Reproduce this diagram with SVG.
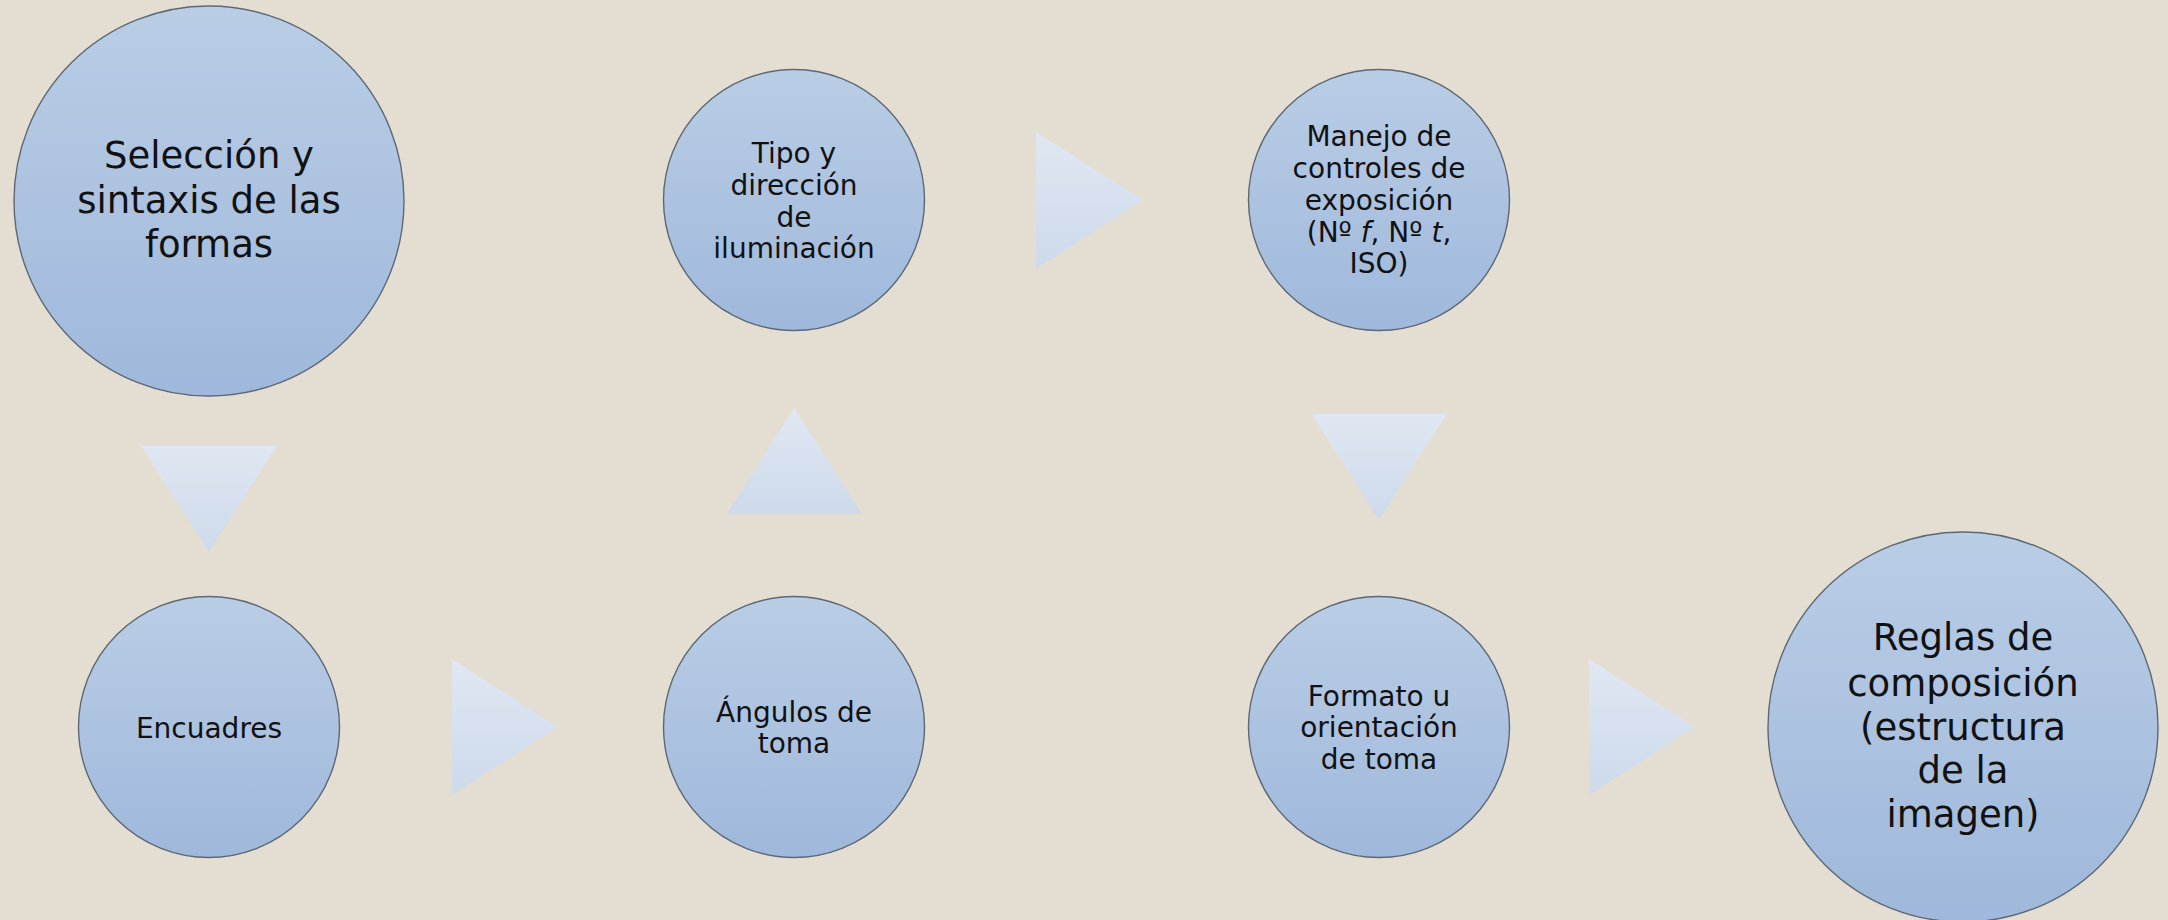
<svg xmlns="http://www.w3.org/2000/svg" width="2168" height="920" viewBox="0 0 2168 920">
<defs>
<linearGradient id="gc" x1="0" y1="0" x2="0" y2="1">
<stop offset="0" stop-color="#b9cde5"/>
<stop offset="1" stop-color="#9fb8db"/>
</linearGradient>
<linearGradient id="ga" x1="0" y1="0" x2="0" y2="1">
<stop offset="0" stop-color="#e0e7f2"/>
<stop offset="1" stop-color="#cddaeb"/>
</linearGradient>
<style>
.n{fill:url(#gc);stroke:#5e6875;stroke-width:1.4}
.a{fill:url(#ga);stroke:none}
text{font-family:"DejaVu Sans","Liberation Sans",sans-serif;fill:#111;text-anchor:middle}
.s{font-size:28px}
.b{font-size:37px}
</style>
</defs>
<rect width="2168" height="920" fill="#e3ded1"/>
<g id="connectors">
<polygon class="a" points="141,446 277,446 209,552"/>
<polygon class="a" points="452,659 452,795 558,727"/>
<polygon class="a" points="727,514 862,514 794,408"/>
<polygon class="a" points="1036,132 1036,269 1143,200"/>
<polygon class="a" points="1312,414 1447,414 1379,520"/>
<polygon class="a" points="1589,659 1589,795 1695,727"/>
</g>
<g id="n1">
<circle class="n" cx="209" cy="201" r="195"/>
<text class="b"><tspan x="209" y="168">Selección y</tspan><tspan x="209" y="213">sintaxis de las</tspan><tspan x="209" y="257">formas</tspan></text>
</g>
<g id="n2">
<circle class="n" cx="209" cy="727" r="130.5"/>
<text class="s" x="209" y="738">Encuadres</text>
</g>
<g id="n3">
<circle class="n" cx="794" cy="727" r="130.5"/>
<text class="s"><tspan x="794" y="722">Ángulos de</tspan><tspan x="794" y="753">toma</tspan></text>
</g>
<g id="n4">
<circle class="n" cx="794" cy="200" r="130.5"/>
<text class="s"><tspan x="794" y="163">Tipo y</tspan><tspan x="794" y="195">dirección</tspan><tspan x="794" y="227">de</tspan><tspan x="794" y="258">iluminación</tspan></text>
</g>
<g id="n5">
<circle class="n" cx="1379" cy="200" r="130.5"/>
<text class="s"><tspan x="1379" y="146">Manejo de</tspan><tspan x="1379" y="178">controles de</tspan><tspan x="1379" y="210">exposición</tspan><tspan x="1379" y="242">(Nº <tspan font-style="italic">f</tspan>, Nº <tspan font-style="italic">t</tspan>,</tspan><tspan x="1379" y="273">ISO)</tspan></text>
</g>
<g id="n6">
<circle class="n" cx="1379" cy="727" r="130.5"/>
<text class="s"><tspan x="1379" y="706">Formato u</tspan><tspan x="1379" y="737">orientación</tspan><tspan x="1379" y="769">de toma</tspan></text>
</g>
<g id="n7">
<circle class="n" cx="1963" cy="727" r="195"/>
<text class="b"><tspan x="1963" y="650">Reglas de</tspan><tspan x="1963" y="696">composición</tspan><tspan x="1963" y="740">(estructura</tspan><tspan x="1963" y="783">de la</tspan><tspan x="1963" y="827">imagen)</tspan></text>
</g>
</svg>
